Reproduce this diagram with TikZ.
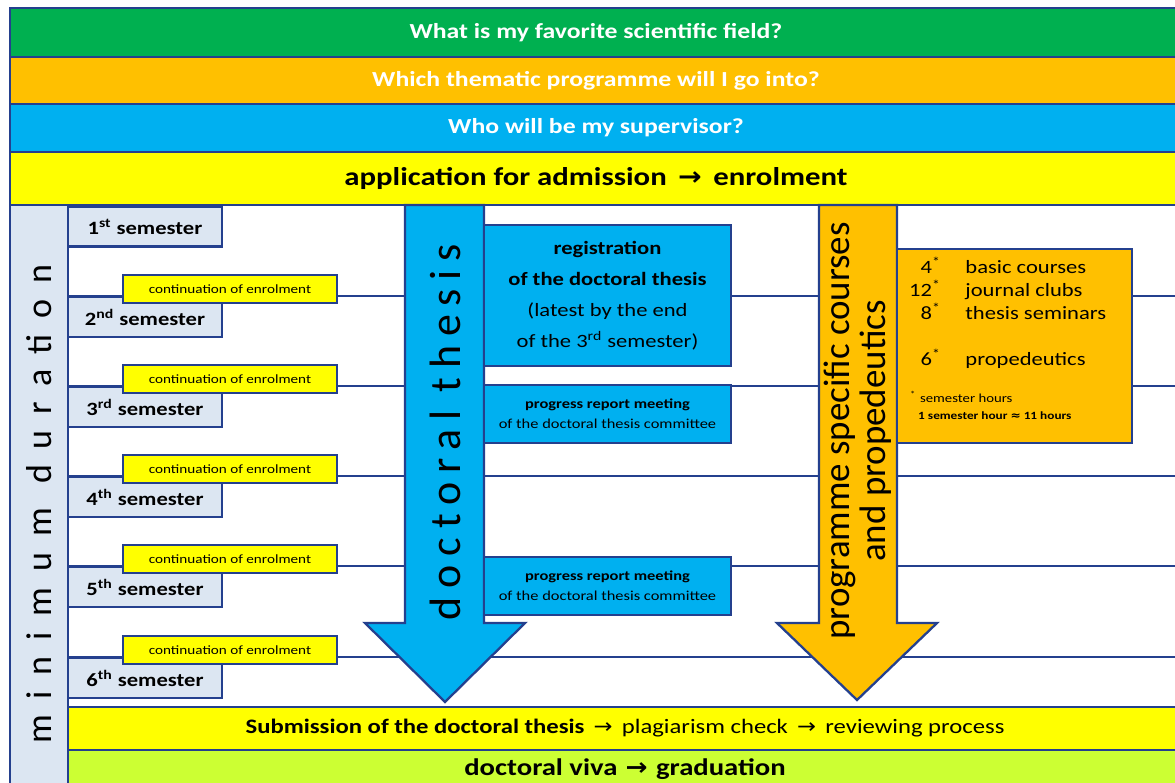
\documentclass[tikz,border=0pt]{standalone}
\usepackage{fontspec}
\setmainfont{Carlito}[FakeStretch=1.2]
\newfontfamily\uprightfont{Carlito}
\newfontfamily\arrowfont{DejaVu Sans}[FakeStretch=1.1]
\usetikzlibrary{positioning}

\definecolor{lineblue}{RGB}{36,64,142}
\definecolor{fieldgreen}{RGB}{0,176,80}
\definecolor{progorange}{RGB}{255,192,0}
\definecolor{superblue}{RGB}{0,176,240}
\definecolor{admyellow}{RGB}{255,255,0}
\definecolor{vivalime}{RGB}{204,255,51}
\definecolor{semblue}{RGB}{220,230,242}

\newcommand{\pxu}{0.02cm}
\newcommand{\fsize}[2]{\fontsize{#1}{#2}\selectfont}
\newcommand{\arr}{{\arrowfont →}}

\tikzstyle{hline}=[draw=lineblue,line width=1.3pt]
\tikzstyle{bar}=[hline,inner sep=0pt,minimum width=1172*\pxu]
\tikzstyle{lowbar}=[hline,inner sep=0pt,minimum width=1114*\pxu]
\tikzstyle{sembox}=[hline,fill=semblue,minimum width=154*\pxu,minimum height=40*\pxu,inner sep=0pt,font=\bfseries\fsize{10.7}{12}]
\tikzstyle{contbox}=[hline,fill=admyellow,minimum width=214*\pxu,minimum height=28*\pxu,inner sep=0pt,font=\fsize{7.2}{8}]
\tikzstyle{thesisbox}=[hline,fill=superblue,minimum width=247*\pxu,inner sep=0pt,align=center]
\tikzstyle{bigarrow}=[hline,line join=miter]
\tikzstyle{sideways}=[rotate=90,inner sep=0pt]

\begin{document}
\begin{tikzpicture}[x=\pxu, y=-\pxu]
    \fill[white] (0,0) rectangle (1175,783);
    \useasboundingbox (0,0) rectangle (1175,783);
    % First we draw the question bars on top
    \node[bar, fill=fieldgreen, minimum height=49*\pxu, text=white, font=\bfseries\fsize{12.2}{14}] (field) at (596,32.5) {What is my favorite scientific field?};
    \node[bar, fill=progorange, minimum height=47*\pxu, text=white, font=\bfseries\fsize{12.2}{14}] (programme) at (596,80.5) {Which thematic programme will I go into?};
    \node[bar, fill=superblue, minimum height=48*\pxu, text=white, font=\bfseries\fsize{12.2}{14}] (supervisor) at (596,128) {Who will be my supervisor?};
    \node[bar, fill=admyellow, minimum height=53*\pxu, font=\bfseries\fsize{14.6}{16}] (admission) at (596,178.5) {application for admission\hspace{0.45em}\arr\hspace{0.45em}enrolment};

    % Left column with the duration
    \draw[hline, fill=semblue] (10,205) rectangle (68,800);
    \node[sideways, font=\uprightfont\fsize{20.5}{20}\addfontfeature{LetterSpace=44}] (mindur) at (39,504) {minimum duration};

    % Semester lines and boxes
    \foreach \ly in {296,386,476,566,657}
        \path[hline] (68,\ly) -- (1190,\ly);
    \node[sembox] (sem1) at (145,226.5) {1\textsuperscript{st} semester};
    \foreach \n/\suf/\ly in {2/nd/296, 3/rd/386, 4/th/476, 5/th/566, 6/th/657} {
        \node[sembox] (sem\n) at (145,\ly+21) {\n\textsuperscript{\suf} semester};
        \node[contbox] (cont\n) at (230,\ly-7) {continuation of enrolment};
    }

    % The doctoral thesis arrow
    \draw[bigarrow, fill=superblue] (405,205) -- (484,205) -- (484,623) -- (525,623) -- (445,702) -- (365,623) -- (405,623) -- cycle;
    \node[sideways, font=\uprightfont\fsize{25}{25}\addfontfeature{LetterSpace=20}] (thesis) at (445,432) {doctoral thesis};
    \node[thesisbox, minimum height=141*\pxu, font=\fsize{10.7}{17.6}] (register) at (607.5,295.5)
        {\textbf{registration}\\\textbf{of the doctoral thesis}\\(latest by the end\\of the 3\textsuperscript{rd} semester)};
    \node[thesisbox, minimum height=58*\pxu, font=\fsize{7.8}{11.4}] (report1) at (607.5,414)
        {\textbf{progress report meeting}\\of the doctoral thesis committee};
    \node[thesisbox, minimum height=58*\pxu, font=\fsize{7.8}{11.4}] (report2) at (607.5,586)
        {\textbf{progress report meeting}\\of the doctoral thesis committee};

    % The course arrow
    \draw[bigarrow, fill=progorange] (819,205) -- (897,205) -- (897,623) -- (937,623) -- (857,700) -- (777,623) -- (819,623) -- cycle;
    \node[sideways, align=center, font=\uprightfont\fsize{21}{20.5}] (courseside) at (858,431) {programme specific courses\\and propedeutics};
    \node[hline, fill=progorange, minimum width=235*\pxu, minimum height=194*\pxu] (courses) at (1014.5,346) {};
    \node[below right=0.18cm and 0.26cm of courses.north west, inner sep=0pt, font=\fsize{10.7}{12.8}] (courselist)
        {\begin{tabular}{@{}r@{\hspace{14pt}}l@{}}
            4\textsuperscript{*} & basic courses\\
            12\textsuperscript{*} & journal clubs\\
            8\textsuperscript{*} & thesis seminars\\
            & \\
            6\textsuperscript{*} & propedeutics
        \end{tabular}};
    \node[below right=2.86cm and 0.28cm of courses.north west, inner sep=0pt, font=\fsize{7}{8}] (hoursnote)
        {\textsuperscript{*}\hspace{0.3em}semester hours};
    \node[below right=3.28cm and 0.44cm of courses.north west, inner sep=0pt, font=\bfseries\fsize{6.3}{7}] (hoursconv)
        {1 semester hour {\arrowfont ≈} 11 hours};

    % Bars at the end
    \node[lowbar, fill=admyellow, minimum height=43*\pxu, font=\fsize{11.7}{13}] (submission) at (625,728.5)
        {\textbf{Submission of the doctoral thesis}\hspace{0.45em}\arr\hspace{0.45em}plagiarism check\hspace{0.45em}\arr\hspace{0.45em}reviewing process};
    \node[lowbar, fill=vivalime, minimum height=38*\pxu, font=\bfseries\fsize{13.6}{15}] (viva) at (625,769)
        {doctoral viva\hspace{0.35em}\arr\hspace{0.35em}graduation};
\end{tikzpicture}
\end{document}
